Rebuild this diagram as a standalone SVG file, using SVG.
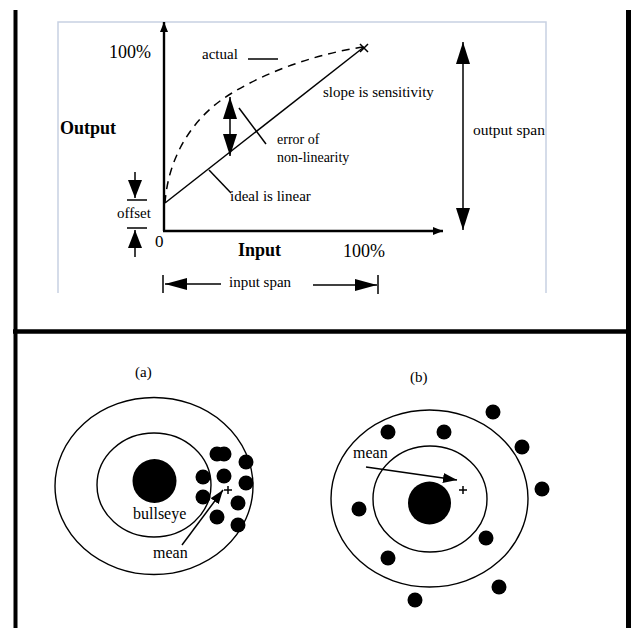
<svg xmlns="http://www.w3.org/2000/svg" width="635" height="628" viewBox="0 0 635 628" font-family="'Liberation Serif', 'Times New Roman', 'DejaVu Serif', serif">
  <style>
    text { font-family: "Liberation Serif", "Times New Roman", "DejaVu Serif", serif; fill: #000; }
    .lbl { font-size: 15px; }
    .big { font-size: 18px; }
    .bold { font-size: 18px; font-weight: bold; }
    .small { font-size: 14px; }
    .ln { stroke: #000; fill: none; stroke-width: 1.5; }
    .axis { stroke: #000; fill: none; stroke-width: 2.4; }
    .frame { stroke: #000; fill: none; }
    .dot { fill: #000; }
    .ring { fill: none; stroke: #000; stroke-width: 1.4; }
  </style>
  <defs>
    <marker id="axisHead" viewBox="0 0 10 10" refX="10" refY="5" markerWidth="10" markerHeight="10" markerUnits="userSpaceOnUse" orient="auto">
      <path d="M0,1 L10,5 L0,9 Z" fill="#000"/>
    </marker>
    <marker id="bigHead" viewBox="0 0 22 14" refX="22" refY="7" markerWidth="22" markerHeight="14" markerUnits="userSpaceOnUse" orient="auto-start-reverse">
      <path d="M0,0 L22,7 L0,14 Z" fill="#000"/>
    </marker>
    <marker id="midHead" viewBox="0 0 18 14" refX="18" refY="7" markerWidth="18" markerHeight="14" markerUnits="userSpaceOnUse" orient="auto">
      <path d="M0,0 L18,7 L0,14 Z" fill="#000"/>
    </marker>
    <marker id="spanHead" viewBox="0 0 22 12" refX="22" refY="6" markerWidth="22" markerHeight="12" markerUnits="userSpaceOnUse" orient="auto">
      <path d="M0,0 L22,6 L0,12 Z" fill="#000"/>
    </marker>
    <marker id="meanHead" viewBox="0 0 14 10" refX="14" refY="5" markerWidth="14" markerHeight="10" markerUnits="userSpaceOnUse" orient="auto">
      <path d="M0,0 L14,5 L0,10 Z" fill="#000"/>
    </marker>
  </defs>

  <rect width="635" height="628" fill="#fff"/>

  <!-- page frame -->
  <g id="frame" class="frame">
    <line x1="15.5" y1="10" x2="15.5" y2="628" stroke-width="4"/>
    <line x1="628.5" y1="10" x2="628.5" y2="628" stroke-width="5"/>
    <line x1="13" y1="331.5" x2="631" y2="331.5" stroke-width="4.5"/>
  </g>

  <!-- pale outline of the characteristic chart -->
  <path d="M58,293 V22 H546 V293" fill="none" stroke="#c8d1e2" stroke-width="1.5"/>

  <!-- characteristic chart -->
  <g id="axes">
    <line class="axis" x1="164" y1="231" x2="164" y2="22" marker-end="url(#axisHead)"/>
    <line class="axis" x1="163" y1="231" x2="443" y2="231" marker-end="url(#axisHead)"/>
    <text class="big" x="109" y="58">100%</text>
    <text class="bold" x="60" y="134">Output</text>
    <text class="bold" x="238" y="256">Input</text>
    <text class="big" x="343" y="257">100%</text>
    <text x="155" y="247" style="font-size:17px">0</text>
  </g>

  <g id="curves">
    <path class="ln" stroke-width="1.8" d="M165,203 C168,160 190,118 232,93 C270,70 320,53 364,47" stroke-dasharray="8 6"/>
    <line class="ln" x1="165" y1="203" x2="364" y2="47"/>
    <path class="ln" d="M360,44 L368,52 M360,52 L368,44"/>
  </g>

  <g id="actual">
    <text class="lbl" x="202" y="59">actual</text>
    <line class="ln" x1="248" y1="59" x2="278" y2="59"/>
  </g>

  <g id="slope">
    <text class="lbl" x="323" y="97">slope is sensitivity</text>
  </g>

  <g id="error">
    <line class="ln" stroke-width="2" x1="230" y1="125" x2="230" y2="97" marker-end="url(#bigHead)"/>
    <line class="ln" stroke-width="2" x1="230" y1="125" x2="230" y2="156" marker-end="url(#bigHead)"/>
    <line class="ln" x1="239" y1="108" x2="266" y2="144"/>
    <text class="small" x="277" y="144">error of</text>
    <text class="small" x="277" y="162">non-linearity</text>
  </g>

  <g id="ideal">
    <line class="ln" x1="209" y1="170" x2="231" y2="193"/>
    <text class="lbl" x="230" y="201">ideal is linear</text>
  </g>

  <g id="offset">
    <line class="ln" stroke-width="1.6" x1="135" y1="172" x2="135" y2="198" marker-end="url(#midHead)"/>
    <line class="ln" stroke-width="2" x1="127" y1="200" x2="147" y2="200"/>
    <text class="lbl" x="117" y="218">offset</text>
    <line class="ln" stroke-width="2" x1="127" y1="228" x2="147" y2="228"/>
    <line class="ln" stroke-width="1.6" x1="135" y1="257" x2="135" y2="230" marker-end="url(#midHead)"/>
  </g>

  <g id="output-span">
    <line class="ln" stroke-width="2" x1="463" y1="42" x2="463" y2="230" marker-start="url(#bigHead)" marker-end="url(#bigHead)"/>
    <text class="lbl" x="473" y="135" style="font-size:15.5px">output span</text>
  </g>

  <g id="input-span">
    <line class="ln" stroke-width="1.6" x1="163" y1="275" x2="163" y2="293"/>
    <line class="ln" stroke-width="1.6" x1="221" y1="284" x2="165" y2="284" marker-end="url(#spanHead)"/>
    <text class="lbl" x="229" y="287">input span</text>
    <line class="ln" stroke-width="1.6" x1="313" y1="285" x2="377" y2="285" marker-end="url(#spanHead)"/>
    <line class="ln" stroke-width="1.6" x1="378" y1="275" x2="378" y2="294"/>
  </g>

  <!-- target (a): precise but biased -->
  <g id="target-a">
    <text class="lbl" x="135" y="377">(a)</text>
    <ellipse class="ring" cx="154" cy="486" rx="99" ry="88.5"/>
    <ellipse class="ring" cx="154" cy="485" rx="57" ry="52"/>
    <circle class="dot" cx="154.5" cy="481" r="22"/>
    <text x="133" y="519" style="font-size:16px">bullseye</text>
    <g class="dot">
      <circle cx="217" cy="454" r="7.5"/>
      <circle cx="224" cy="454" r="7.5"/>
      <circle cx="246" cy="462" r="7.5"/>
      <circle cx="203" cy="477" r="7.5"/>
      <circle cx="224" cy="476" r="7.5"/>
      <circle cx="246" cy="483" r="7.5"/>
      <circle cx="203" cy="497" r="7.5"/>
      <circle cx="238" cy="503" r="7.5"/>
      <circle cx="217" cy="517" r="7.5"/>
      <circle cx="238" cy="525" r="7.5"/>
    </g>
    <path class="ln" d="M224,490 H232 M228,486 V494"/>
    <line class="ln" x1="182" y1="545" x2="223" y2="490" marker-end="url(#meanHead)"/>
    <text x="153" y="558" style="font-size:16px">mean</text>
  </g>

  <!-- target (b): scattered but unbiased -->
  <g id="target-b">
    <text class="lbl" x="410" y="382">(b)</text>
    <ellipse class="ring" cx="429.5" cy="498.5" rx="98.5" ry="88.5"/>
    <ellipse class="ring" cx="430" cy="499" rx="57" ry="53"/>
    <circle class="dot" cx="429.5" cy="503" r="21.5"/>
    <g class="dot">
      <circle cx="493" cy="412" r="7.5"/>
      <circle cx="522" cy="447" r="7.5"/>
      <circle cx="542" cy="489" r="7.5"/>
      <circle cx="388" cy="432" r="7.5"/>
      <circle cx="444" cy="432" r="7.5"/>
      <circle cx="359" cy="509" r="7.5"/>
      <circle cx="486" cy="538" r="7.5"/>
      <circle cx="388" cy="558" r="7.5"/>
      <circle cx="499" cy="587" r="7.5"/>
      <circle cx="415" cy="600" r="7.5"/>
    </g>
    <text x="353" y="458" style="font-size:16px">mean</text>
    <line class="ln" x1="366" y1="467" x2="457" y2="480" marker-end="url(#meanHead)"/>
    <path class="ln" d="M459,490 H467 M463,486 V494"/>
  </g>
</svg>
